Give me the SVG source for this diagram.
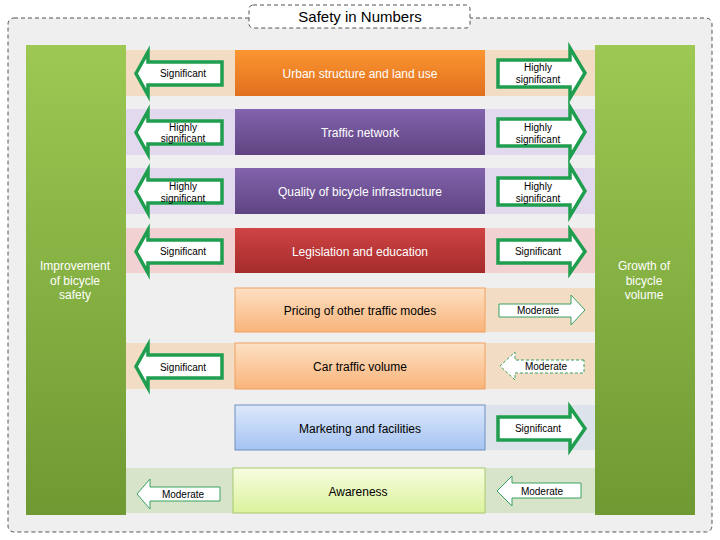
<svg xmlns="http://www.w3.org/2000/svg" width="720" height="540" viewBox="0 0 720 540">
<defs>
<linearGradient id="gBar" x1="0" y1="0" x2="0" y2="1"><stop offset="0" stop-color="#9cc853"/><stop offset="1" stop-color="#6f9a33"/></linearGradient>
<linearGradient id="gOr" x1="0" y1="0" x2="0" y2="1"><stop offset="0" stop-color="#fb9530"/><stop offset="1" stop-color="#e0701e"/></linearGradient>
<linearGradient id="gPu" x1="0" y1="0" x2="0" y2="1"><stop offset="0" stop-color="#8263ad"/><stop offset="1" stop-color="#5f4481"/></linearGradient>
<linearGradient id="gRe" x1="0" y1="0" x2="0" y2="1"><stop offset="0" stop-color="#cf4444"/><stop offset="1" stop-color="#a52b2b"/></linearGradient>
<linearGradient id="gLo" x1="0" y1="0" x2="0" y2="1"><stop offset="0" stop-color="#fde0c4"/><stop offset="1" stop-color="#f9b47a"/></linearGradient>
<linearGradient id="gBl" x1="0" y1="0" x2="0" y2="1"><stop offset="0" stop-color="#dde8fb"/><stop offset="1" stop-color="#a5c3f2"/></linearGradient>
<linearGradient id="gGr" x1="0" y1="0" x2="0" y2="1"><stop offset="0" stop-color="#f6fde0"/><stop offset="1" stop-color="#dcf29d"/></linearGradient>
</defs>
<style>
text{font-family:"Liberation Sans",Arial,sans-serif;text-anchor:middle}
.t{font-size:12px}
.w{fill:#fff}
.b{fill:#000;font-weight:bold}
.a{font-size:10px;fill:#000}
.sig{fill:#fff;stroke:#1f9e4f;stroke-width:3.5}
.mod{fill:#fff;stroke:#3aa060;stroke-width:1}
.dash{fill:#fff;stroke:#3aa060;stroke-width:1;stroke-dasharray:3 2}
</style>
<rect x="8" y="18" width="704" height="514" rx="6" fill="#efefef" stroke="#555" stroke-dasharray="4 3"/>
<g id="title"><rect x="249" y="5" width="221" height="23" rx="4" fill="#fff" stroke="#555" stroke-dasharray="4 3"/><text x="360" y="22" style="font-size:15px">Safety in Numbers</text></g>
<g id="bands">
<rect x="126" y="50" width="469" height="46" fill="#f2dcc4"/>
<rect x="126" y="109" width="469" height="46" fill="#e3d9ee"/>
<rect x="126" y="168" width="469" height="46" fill="#e3d9ee"/>
<rect x="126" y="228" width="469" height="45" fill="#f1d1d1"/>
<rect x="485" y="288" width="110" height="44" fill="#f2dcc4"/>
<rect x="126" y="343" width="469" height="46" fill="#f2dcc4"/>
<rect x="485" y="405" width="110" height="45" fill="#dde3ea"/>
<rect x="126" y="468" width="469" height="45" fill="#d7e4c9"/>
</g>
<g id="left"><rect x="26" y="45" width="100" height="470" fill="url(#gBar)"/><text class="t w" x="75" y="270">Improvement</text><text class="t w" x="75" y="285">of bicycle</text><text class="t w" x="75" y="299">safety</text></g>
<g id="right"><rect x="595" y="45" width="100" height="470" fill="url(#gBar)"/><text class="t w" x="644" y="270">Growth of</text><text class="t w" x="644" y="285">bicycle</text><text class="t w" x="644" y="299">volume</text></g>
<g id="n1"><rect x="235" y="50" width="250" height="46" fill="url(#gOr)"/><text class="t w" x="360" y="78">Urban structure and land use</text></g>
<g id="n2"><rect x="235" y="109" width="250" height="46" fill="url(#gPu)"/><text class="t w" x="360" y="137">Traffic network</text></g>
<g id="n3"><rect x="235" y="168" width="250" height="46" fill="url(#gPu)"/><text class="t w" x="360" y="196">Quality of bicycle infrastructure</text></g>
<g id="n4"><rect x="235" y="228" width="250" height="45" fill="url(#gRe)"/><text class="t w" x="360" y="256">Legislation and education</text></g>
<g id="n5"><rect x="235" y="288" width="250" height="44" fill="url(#gLo)" stroke="#f0a060"/><text class="t b" x="360" y="315" style="font-weight:normal">Pricing of other traffic modes</text></g>
<g id="n6"><rect x="235" y="343" width="250" height="46" fill="url(#gLo)" stroke="#f0a060"/><text class="t" x="360" y="371">Car traffic volume</text></g>
<g id="n7"><rect x="235" y="405" width="250" height="45" fill="url(#gBl)" stroke="#6f8fc0"/><text class="t" x="360" y="433">Marketing and facilities</text></g>
<g id="n8"><rect x="233" y="468" width="252" height="45" fill="url(#gGr)" stroke="#a8c870"/><text class="t" x="358" y="496">Awareness</text></g>
<g id="connectors">
<path class="sig" d="M222,62 H148 V52 L136,73.5 L148,95 V85 H222 Z"/>
<path class="sig" d="M222,121 H148 V111 L136,132.5 L148,154 V144 H222 Z"/>
<path class="sig" d="M222,180 H148 V170 L136,191.5 L148,213 V203 H222 Z"/>
<path class="sig" d="M222,240 H148 V230 L136,251.5 L148,273 V263 H222 Z"/>
<path class="sig" d="M222,355 H148 V345 L136,366.5 L148,388 V378 H222 Z"/>
<path class="mod" d="M220,487 H150 V479 L137,494 L150,509 V501 H220 Z"/>
<path class="sig" d="M498,60 H570 V48 L585,73 L570,98 V87 H498 Z"/>
<path class="sig" d="M498,119 H570 V107 L585,132 L570,157 V146 H498 Z"/>
<path class="sig" d="M498,178 H570 V166 L585,191 L570,216 V205 H498 Z"/>
<path class="sig" d="M498,240 H570 V230 L585,251.5 L570,273 V263 H498 Z"/>
<path class="mod" d="M499,304 H571 V295 L585,310 L571,325 V317 H499 Z"/>
<path class="dash" d="M584,360 H515 V352 L500,366 L515,380 V373 H584 Z"/>
<path class="sig" d="M498,417 H570 V407 L585,428.5 L570,450 V440 H498 Z"/>
<path class="mod" d="M581,483 H512 V476 L497,491 L512,506 V498 H581 Z"/>
</g>
<g id="labels">
<text class="a" x="183" y="77">Significant</text>
<text class="a" x="183" y="131">Highly</text><text class="a" x="183" y="142">significant</text>
<text class="a" x="183" y="190">Highly</text><text class="a" x="183" y="202">significant</text>
<text class="a" x="183" y="255">Significant</text>
<text class="a" x="183" y="371">Significant</text>
<text class="a" x="183" y="498">Moderate</text>
<text class="a" x="538" y="71">Highly</text><text class="a" x="538" y="83">significant</text>
<text class="a" x="538" y="131">Highly</text><text class="a" x="538" y="143">significant</text>
<text class="a" x="538" y="190">Highly</text><text class="a" x="538" y="202">significant</text>
<text class="a" x="538" y="255">Significant</text>
<text class="a" x="538" y="314">Moderate</text>
<text class="a" x="546" y="370">Moderate</text>
<text class="a" x="538" y="432">Significant</text>
<text class="a" x="542" y="495">Moderate</text>
</g>
</svg>
